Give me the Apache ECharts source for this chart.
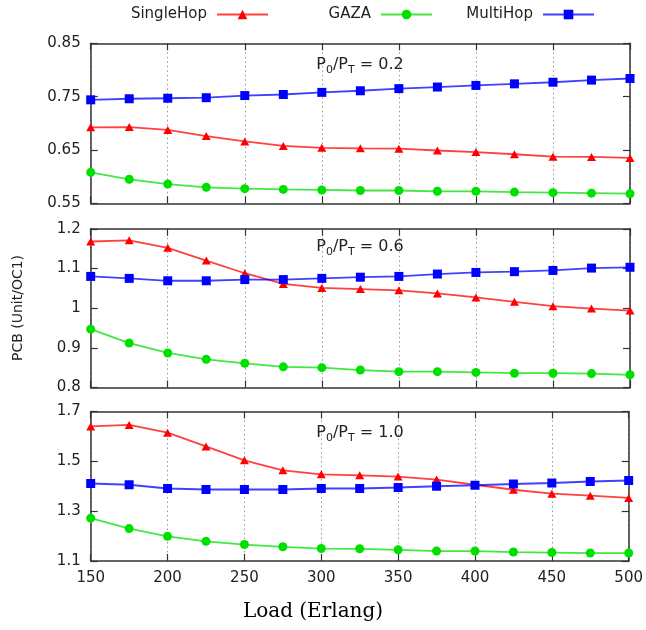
<!DOCTYPE html>
<html>
<head>
<meta charset="utf-8">
<script src="https://cdn.jsdelivr.net/npm/echarts@6/dist/echarts.min.js"></script>
<style>
html,body{margin:0;padding:0;background:#fff;}
#chart{width:646px;height:630px;}
</style>
</head>
<body>
<div id="chart"></div>
<script>
const loads = [150,175,200,225,250,275,300,325,350,375,400,425,450,475,500];
const xTicks = [150,200,250,300,350,400,450,500];
const seriesNames = ['SingleHop','GAZA','MultiHop'];
const ratioLabels = ['0.2','0.6','1.0'];

const single02 = [0.6925,0.693,0.6875,0.676,0.666,0.6575,0.654,0.653,0.6525,0.649,0.646,0.642,0.6375,0.637,0.635];
const gaza02   = [0.608,0.595,0.586,0.580,0.5775,0.576,0.575,0.574,0.574,0.5725,0.5725,0.571,0.570,0.569,0.568];
const multi02  = [0.744,0.746,0.747,0.748,0.752,0.754,0.758,0.761,0.765,0.768,0.771,0.774,0.777,0.781,0.784];

const single06 = [1.168,1.171,1.152,1.120,1.088,1.061,1.051,1.048,1.045,1.037,1.027,1.016,1.005,0.999,0.994];
const gaza06   = [0.947,0.912,0.887,0.871,0.861,0.852,0.850,0.844,0.840,0.840,0.838,0.836,0.836,0.835,0.832];
const multi06  = [1.080,1.075,1.069,1.069,1.072,1.072,1.075,1.078,1.080,1.086,1.090,1.092,1.095,1.101,1.103];

const single10 = [1.640,1.646,1.615,1.560,1.504,1.464,1.448,1.444,1.439,1.427,1.406,1.386,1.370,1.362,1.353];
const gaza10   = [1.272,1.230,1.199,1.179,1.166,1.157,1.150,1.149,1.145,1.140,1.140,1.136,1.134,1.132,1.132];
const multi10  = [1.411,1.406,1.391,1.387,1.387,1.387,1.391,1.391,1.395,1.400,1.404,1.409,1.413,1.419,1.423];

const yRanges = [[0.55,0.85,0.1],[0.8,1.2,0.1],[1.1,1.7,0.2]];

const panels = [
  [single02, gaza02, multi02],
  [single06, gaza06, multi06],
  [single10, gaza10, multi10]
];

const SANS = 'DejaVu Sans';
const colors = ['#ff0000','#00e000','#0000ff'];
const symbols = ['triangle','circle','rect'];
const symbolSizes = [[9,8],9,9];

const gridLayout = [
  {top:43.3, height:160},
  {top:228.8, height:158.7},
  {top:411.5, height:149.5}
];

const grids = [], xAxes = [], yAxes = [], series = [];
const fmt = [
  v => v.toFixed(2),
  v => String(parseFloat(v.toFixed(2))),
  v => v.toFixed(1)
];

gridLayout.forEach((g, i) => {
  grids.push({left:90.7, right:16, top:g.top, height:g.height, show:false, containLabel:false});
  const lineStyle = {color:'#333', width:1.5};
  xAxes.push({
    type:'value', gridIndex:i, min:150, max:500, interval:50, position:'bottom',
    axisLine:{show:true, onZero:false, lineStyle},
    axisTick:{show:true, inside:true, length:7, lineStyle:{color:'#333', width:1.2}},
    axisLabel:{show:i===2, margin:10, fontFamily:SANS, fontSize:15, color:'#222'},
    splitLine:{show:true, lineStyle:{type:[1.5,3], color:'#999', width:1}}
  });
  xAxes.push({
    type:'value', gridIndex:i, min:150, max:500, interval:50, position:'top',
    axisLine:{show:true, onZero:false, lineStyle},
    axisTick:{show:true, inside:true, length:7, lineStyle:{color:'#333', width:1.2}},
    axisLabel:{show:false}, splitLine:{show:false}
  });
  const r = yRanges[i];
  yAxes.push({
    type:'value', gridIndex:i, min:r[0], max:r[1], interval:r[2], position:'left',
    axisLine:{show:true, onZero:false, lineStyle},
    axisTick:{show:true, inside:true, length:7, lineStyle:{color:'#333', width:1.2}},
    axisLabel:{show:true, margin:10, fontFamily:SANS, fontSize:15, color:'#222', formatter:fmt[i]},
    splitLine:{show:false}
  });
  yAxes.push({
    type:'value', gridIndex:i, min:r[0], max:r[1], interval:r[2], position:'right',
    axisLine:{show:true, onZero:false, lineStyle},
    axisTick:{show:true, inside:true, length:7, lineStyle:{color:'#333', width:1.2}},
    axisLabel:{show:false}, splitLine:{show:false}
  });
  panels[i].forEach((vals, k) => {
    series.push({
      name: seriesNames[k], type:'line', xAxisIndex:2*i, yAxisIndex:2*i,
      data: loads.map((x, j) => [x, vals[j]]),
      symbol: symbols[k], symbolSize: symbolSizes[k],
      itemStyle:{color:colors[k]},
      lineStyle:{color:colors[k], width:1.8, opacity:0.75},
      animation:false, z: 3
    });
  });
});

const legendRights = [377, 213, 51];
const legends = seriesNames.map((n, k) => ({
  data:[n], right:legendRights[k], top:7, padding:0, align:'right', orient:'horizontal',
  itemWidth:51, itemHeight:12, itemGap:0,
  textStyle:{fontFamily:SANS, fontSize:15, color:'#222', padding:[0,5,0,0]}
}));

const titleYs = [65, 247, 433];
const graphics = titleYs.map((y, i) => ({
  type:'text', x:360, y:y, z:10,
  style:{
    text:'{a|P}{s|0}{a|/P}{s|T}{a| = ' + ratioLabels[i] + '}',
    align:'center', verticalAlign:'middle',
    rich:{
      a:{fontFamily:SANS, fontSize:16, fill:'#222', lineHeight:22, verticalAlign:'middle'},
      s:{fontFamily:SANS, fontSize:11, fill:'#222', lineHeight:22, verticalAlign:'bottom'}
    }
  }
}));
graphics.push({
  type:'text', x:18, y:308, rotation:Math.PI/2,
  style:{text:'PCB (Unit/OC1)', align:'center', verticalAlign:'middle',
    fontFamily:SANS, fontSize:14, fill:'#222'}
});
graphics.push({
  type:'text', x:313, y:612,
  style:{text:'Load (Erlang)', align:'center', verticalAlign:'middle',
    fontFamily:'DejaVu Serif', fontSize:20, fill:'#000'}
});

const chart = echarts.init(document.getElementById('chart'), null, {renderer:'canvas'});
chart.setOption({
  animation:false,
  backgroundColor:'#fff',
  legend: legends,
  grid: grids,
  xAxis: xAxes,
  yAxis: yAxes,
  series: series,
  graphic: graphics
});
</script>
</body>
</html>
